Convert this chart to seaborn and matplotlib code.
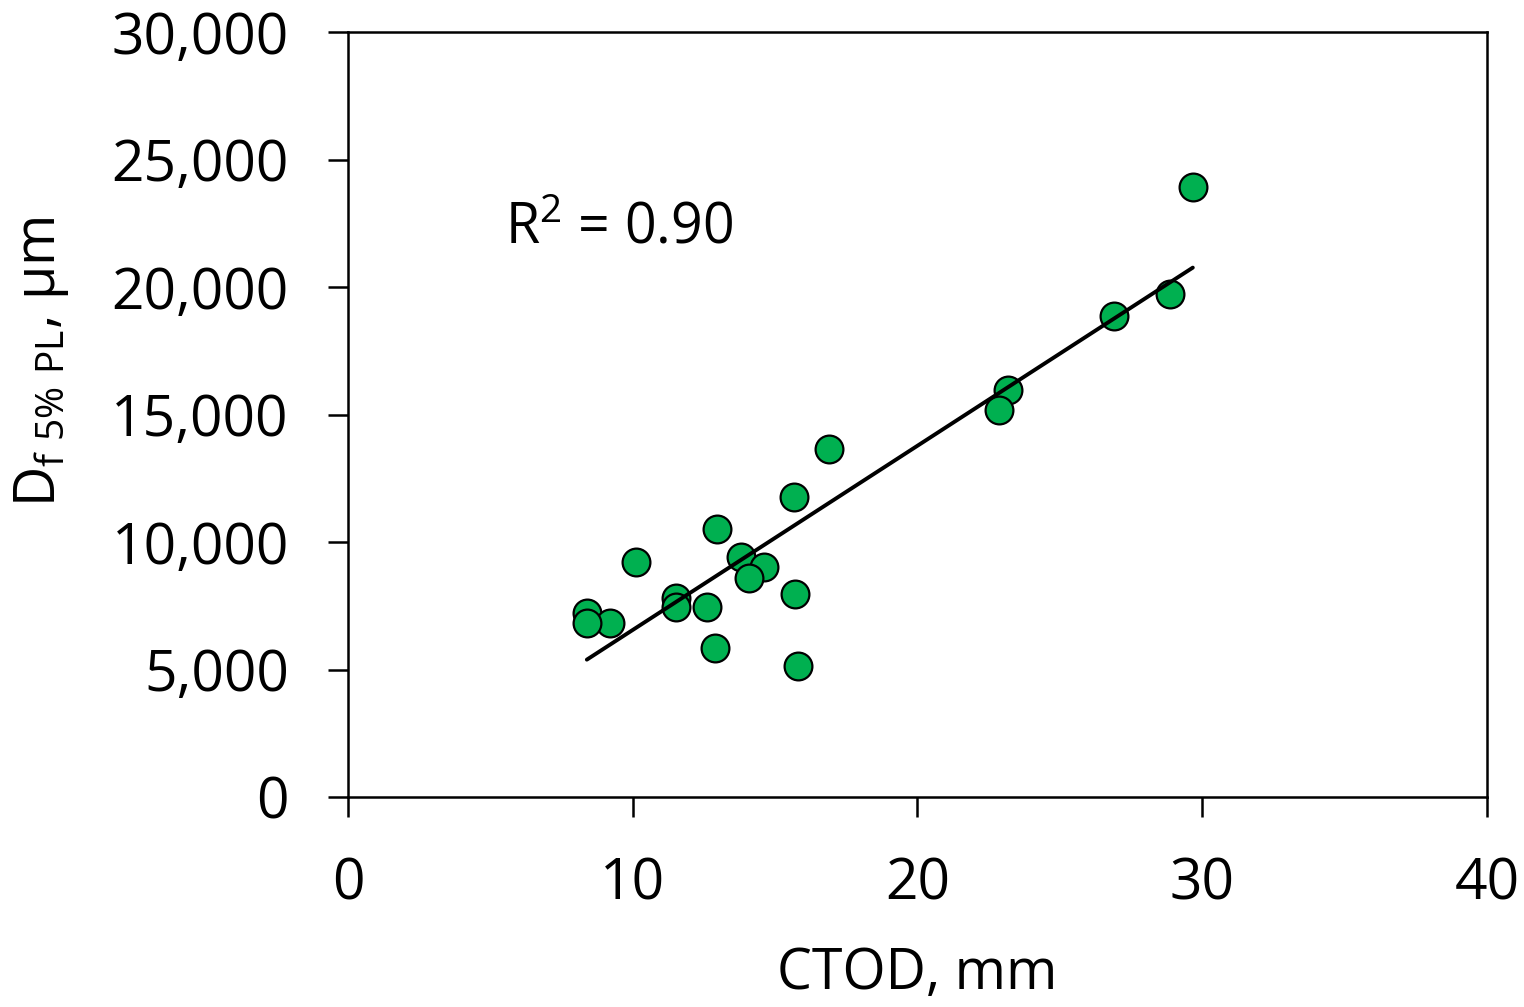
import numpy as np
import pandas as pd
import matplotlib
matplotlib.use('Agg')
import matplotlib.pyplot as plt
import seaborn as sns

# данные
ctod = [29.67, 28.87, 26.90, 23.18, 22.86, 16.89, 15.66, 12.96, 10.11, 13.80, 14.61,
        14.08, 15.70, 11.52, 11.52, 12.61, 8.39, 9.20, 8.39, 12.89, 15.80]
df5 = [23920, 19725, 18860, 15960, 15180, 13650, 11765, 10510, 9216, 9412, 9020,
       8588, 7961, 7804, 7451, 7451, 7216, 6824, 6824, 5843, 5137]
r2_text = 'R$^2$ = 0.90'

df = pd.DataFrame({'ctod': ctod, 'df5': df5})

sns.set_style('ticks')
plt.rcParams['font.family'] = ['Open Sans', 'DejaVu Sans']
plt.rcParams['mathtext.default'] = 'regular'
plt.rcParams['text.color'] = 'black'
plt.rcParams['axes.labelcolor'] = 'black'

fig, ax = plt.subplots(figsize=(15.24, 10.07), dpi=100)
fig.subplots_adjust(left=0.2283, right=0.9757, top=0.9682, bottom=0.2085)

sns.scatterplot(data=df, x='ctod', y='df5', ax=ax, s=400, color='#00b050',
                edgecolor='black', linewidth=1.6, zorder=2)
sns.regplot(data=df, x='ctod', y='df5', ax=ax, scatter=False, ci=None,
            color='black', line_kws={'linewidth': 2.8, 'zorder': 3})

ax.set_xlim(0, 40)
ax.set_ylim(0, 30000)
ax.set_xticks([0, 10, 20, 30, 40])
ax.set_yticks(range(0, 30001, 5000))
ax.yaxis.set_major_formatter(matplotlib.ticker.StrMethodFormatter('{x:,.0f}'))
ax.tick_params(direction='out', length=14.5, width=1.8, labelsize=41, color='black',
               labelcolor='black', pad=28)
for sp in ax.spines.values():
    sp.set_visible(True)
    sp.set_linewidth(1.8)
    sp.set_color('black')

ax.set_xlabel('CTOD, mm', fontsize=40)
ax.xaxis.set_label_coords(0.5, -0.195)
ax.set_ylabel(r'D$_{f\ 5\%\ PL}$, µm', fontsize=40)
ax.yaxis.set_label_coords(-0.243, 0.569)
ax.text(5.5, 21725, r2_text, fontsize=40, ha='left', va='baseline')

plt.savefig('out.png', dpi=100)
